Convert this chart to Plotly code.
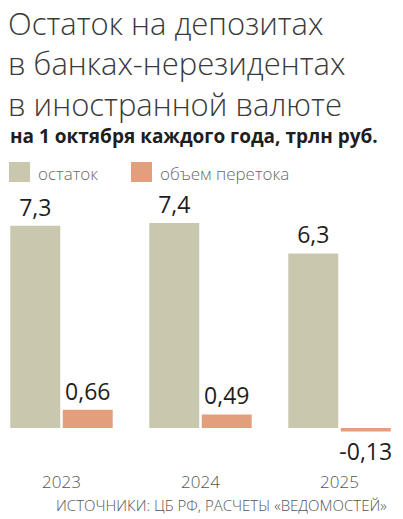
import plotly.graph_objects as go

# data
years = ["2023", "2024", "2025"]
balance = [7.3, 7.4, 6.3]
flow = [0.66, 0.49, -0.13]
series_names = ["остаток", "объем перетока"]
colors = ["#c9c7ae", "#e39f7b"]
title_lines = ["Остаток на депозитах", "в банках-нерезидентах", "в иностранной валюте"]

W, H = 403, 519
PT, PB = 190, 466          # plot area top / bottom, pixels
BASE = 428                 # zero line, pixels
PX_PER_UNIT = 27.7


def py(p):
    """pixel row -> paper y"""
    return (PB - p) / (PB - PT)


def px(p):
    return p / W


def fmt(v):
    return str(v).replace(".", ",")


fig = go.Figure()

for vals, name, col in zip([balance, flow], series_names, colors):
    fig.add_trace(go.Bar(
        x=years,
        y=vals,
        name=name,
        marker=dict(color=col, line=dict(width=0)),
        text=[fmt(v) for v in vals],
        textposition="outside",
        constraintext="none",
        cliponaxis=False,
        textfont=dict(family="Open Sans", size=23, color="#1e1e1e"),
        showlegend=False,
        hoverinfo="skip",
    ))

# category 0 centre at x 61.5, spacing 139 px
x0 = -61.5 / 139
x1 = x0 + W / 139

fig.update_layout(
    width=W,
    height=H,
    margin=dict(l=0, r=0, t=PT, b=H - PB, pad=0),
    paper_bgcolor="white",
    plot_bgcolor="white",
    barmode="group",
    bargap=0.245,
    bargroupgap=0.048,
    xaxis=dict(
        range=[x0, x1],
        showgrid=False,
        zeroline=False,
        showline=False,
        ticks="",
        ticklabelstandoff=4,
        tickfont=dict(family="Open Sans", size=17, color="#555555", weight=300),
        fixedrange=True,
    ),
    yaxis=dict(
        range=[-(PB - BASE) / PX_PER_UNIT, (BASE - PT) / PX_PER_UNIT],
        visible=False,
        fixedrange=True,
    ),
    font=dict(family="Open Sans"),
)

fig.add_annotation(
    text="<br>".join(title_lines),
    xref="paper", yref="paper", x=px(6), y=py(0),
    xanchor="left", yanchor="top", align="left", showarrow=False,
    font=dict(family="Open Sans", size=31, color="#3a3a3a", weight=300),
)

fig.add_annotation(
    text="<b>на 1 октября каждого года, трлн руб.</b>",
    xref="paper", yref="paper", x=px(8), y=py(136),
    xanchor="left", yanchor="middle", align="left", showarrow=False,
    font=dict(family="Open Sans", size=19, color="#1e1e1e"),
)

# legend swatches + labels
legend_x = [9, 131]
for lx, name, col in zip(legend_x, series_names, colors):
    fig.add_shape(
        type="rect", xref="paper", yref="paper",
        x0=px(lx), x1=px(lx + 21), y0=py(182), y1=py(162),
        fillcolor=col, line=dict(width=0),
    )
    fig.add_annotation(
        text=name, xref="paper", yref="paper",
        x=px(lx + 27), y=py(173), xanchor="left", yanchor="middle",
        showarrow=False,
        font=dict(family="Open Sans", size=17, color="#6a6a6a", weight=300),
    )

# source
fig.add_annotation(
    text="ИСТОЧНИКИ: ЦБ РФ, РАСЧЕТЫ «ВЕДОМОСТЕЙ»",
    xref="paper", yref="paper", x=px(389), y=py(505),
    xanchor="right", yanchor="middle", showarrow=False,
    font=dict(family="Open Sans", size=15, color="#555555", weight=300),
)

# the page body keeps its default 8px margin otherwise
fig.write_html(
    "out.html",
    config={"displayModeBar": False},
    post_script="document.body.style.margin = '0';",
)
